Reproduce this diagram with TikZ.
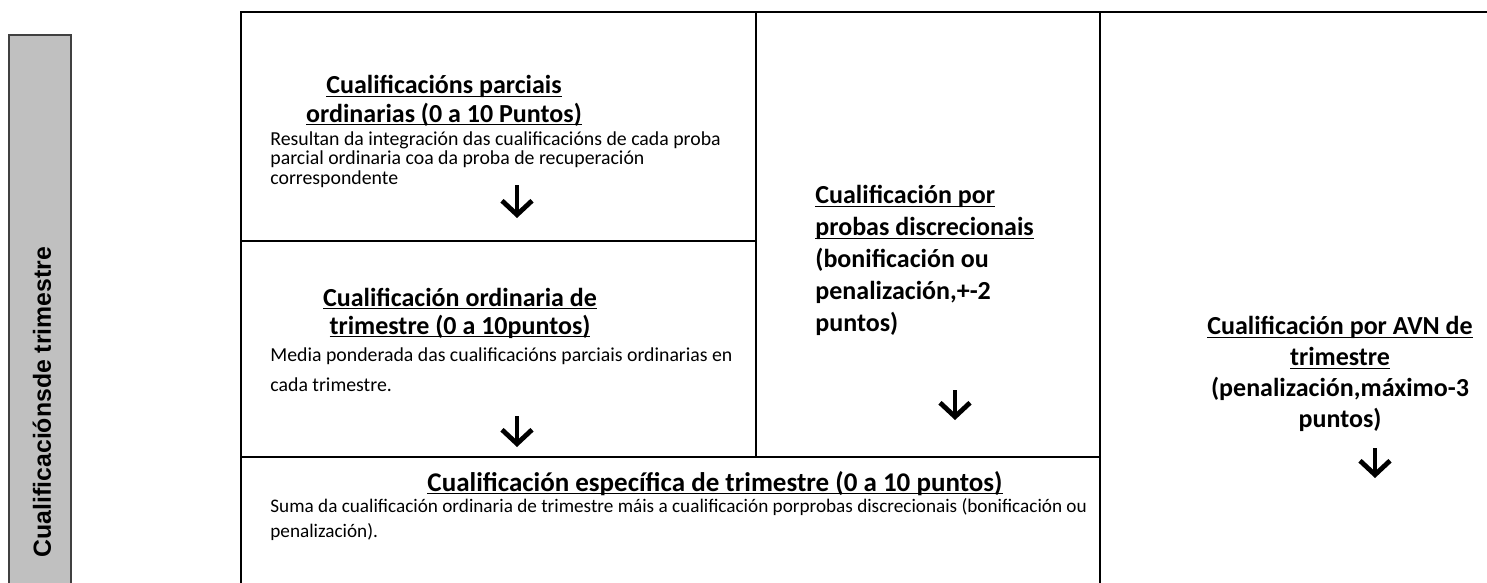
\documentclass[tikz,border=0pt]{standalone}
\usepackage{fontspec}
\setmainfont{Carlito}
\newfontfamily\barfont{Liberation Sans}
\usetikzlibrary{arrows.meta}
\definecolor{barfill}{HTML}{C0C0C0}
\newcommand\uline[1]{\underline{\smash{#1}}}

\begin{document}
\begin{tikzpicture} [x=0.5pt, y=-0.5pt,
  cell/.style={line width=1pt},
  head/.style={font=\bfseries\fontsize{13}{14}\selectfont, align=center, inner sep=0pt},
  body/.style={font=\fontsize{9.9}{9.8}\selectfont, align=left, anchor=north west, inner sep=0pt},
  down/.style={-{Straight Barb[length=7pt, width=15pt, line width=2.4pt]}, line width=2.4pt}]
\useasboundingbox (0,0) rectangle (1487,583);

\fill[barfill] (9,35) rectangle (71,584);
\draw[black!75, line width=0.6pt] (9,584) -- (9,35) -- (71,35) -- (71,584);
\node[rotate=90, font=\barfont\bfseries\fontsize{12.4}{14}\selectfont] (bar) at (42,402) {Cualificaciónsde trimestre};

\draw[cell] (241,584) -- (241,12) -- (1488,12);
\draw[cell] (756,12) -- (756,457);
\draw[cell] (1100,12) -- (1100,584);
\draw[cell] (241,241) -- (756,241);
\draw[cell] (241,457) -- (1100,457);

\node[head] (parc) at (444,110) {\uline{Cualificacións parciais}\\ \uline{ordinarias (0 a 10 Puntos)}};
\node[body] (parctxt) at (270,131) {Resultan da integración das cualificacións de cada proba\\ parcial ordinaria coa da proba de recuperación\\ correspondente};

\node[head] (ordi) at (460,322) {\uline{Cualificación ordinaria de}\\ \uline{trimestre (0 a 10puntos)}};
\node[body, font=\fontsize{9.9}{15}\selectfont] (orditxt) at (270,347) {Media ponderada das cualificacións parciais ordinarias en\\ cada trimestre.};

\node[head, align=left, anchor=north west, font=\bfseries\fontsize{13}{16}\selectfont] (disc) at (815,203) {\uline{Cualificación por}\\ \uline{probas discrecionais}\\ (bonificación ou\\ penalización,+-2\\ puntos)};

\node[head, font=\bfseries\fontsize{13}{15.4}\selectfont] (avn) at (1340,383) {\uline{Cualificación por AVN de}\\ \uline{trimestre}\\ (penalización,máximo-3\\ puntos)};

\node[head, font=\bfseries\fontsize{13.5}{14}\selectfont] (espe) at (715,493) {\uline{Cualificación específica de trimestre (0 a 10 puntos)}};
\node[body, font=\fontsize{9.6}{12.5}\selectfont] (espetxt) at (270,498) {Suma da cualificación ordinaria de trimestre máis a cualificación porprobas discrecionais (bonificación ou\\ penalización).};

\coordinate (a1) at (517,185);
\coordinate (b1) at (517,218);
\coordinate (a2) at (517,416);
\coordinate (b2) at (517,447);
\coordinate (a3) at (955,390);
\coordinate (b3) at (955,420);
\coordinate (a4) at (1375,448);
\coordinate (b4) at (1375,478);
\foreach \i in {1,...,4} \draw[down] (a\i) -- (b\i);

\end{tikzpicture}
\end{document}
